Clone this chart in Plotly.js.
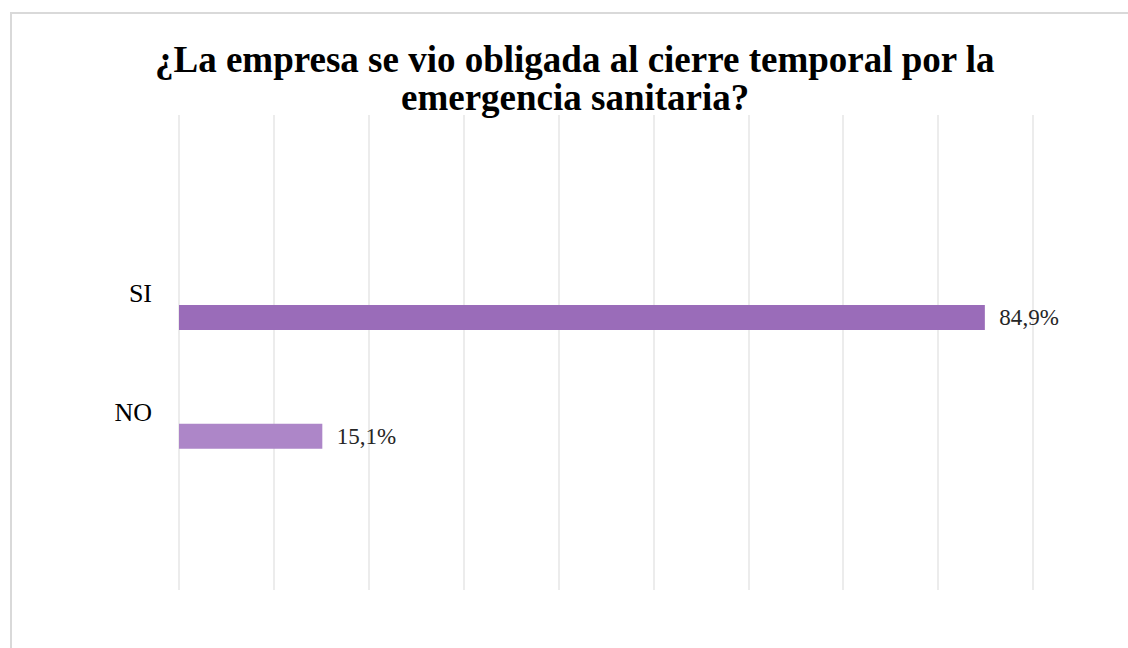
<!DOCTYPE html>
<html>
<head>
<meta charset="utf-8">
<script src="https://cdn.plot.ly/plotly-3.0.1.min.js"></script>
<style>
  body { margin: 0; background: #fff; }
  #frame { position: absolute; left: 10px; top: 12px; width: 1200px; height: 700px;
           border: 2px solid #d9d9d9; pointer-events: none; }
</style>
</head>
<body>
<div id="chart" style="width:1128px;height:648px;"></div>
<div id="frame"></div>
<script>
var titleLines = ['¿La empresa se vio obligada al cierre temporal por la', 'emergencia sanitaria?'];
var categories = ['SI', 'NO'];
var values = [84.9, 15.1];
var barColors = ['#9a6cb9', '#ad86c8'];

var trace = {
    type: 'bar',
    orientation: 'h',
    y: categories,
    x: values,
    width: 0.21,
    offset: 0.1,
    marker: { color: barColors },
    texttemplate: '\u00a0\u00a0%{x:.1f}%',
    textposition: 'outside',
    cliponaxis: false,
    textfont: { family: 'Liberation Serif', size: 24, color: '#262626' },
    hoverinfo: 'skip'
};

// two title lines set as annotations so the line gap can match the original
var titleY = [1.117, 1.037];
var annotations = titleLines.map(function (line, i) {
    return {
        text: '<b>' + line + '</b>',
        font: { family: 'Liberation Serif', size: 37, color: '#000' },
        xref: 'paper', yref: 'paper',
        x: 0.461, y: titleY[i],
        xanchor: 'center', yanchor: 'middle',
        showarrow: false
    };
});

var layout = {
    width: 1128,
    height: 648,
    separators: ',.',
    annotations: annotations,
    margin: { l: 179, r: 90, t: 115, b: 58 },
    showlegend: false,
    xaxis: {
        range: [0, 90.5],
        dtick: 10,
        gridcolor: '#ececec',
        gridwidth: 1.5,
        zeroline: true,
        zerolinecolor: '#ececec',
        zerolinewidth: 1.5,
        showticklabels: false
    },
    yaxis: {
        type: 'category',
        range: [2.5, -1.5],
        showgrid: false,
        zeroline: false,
        ticks: '',
        ticklabelstandoff: 26,
        tickfont: { family: 'Liberation Serif', size: 26, color: '#000' }
    }
};

Plotly.newPlot('chart', [trace], layout, { displayModeBar: false });
</script>
</body>
</html>
